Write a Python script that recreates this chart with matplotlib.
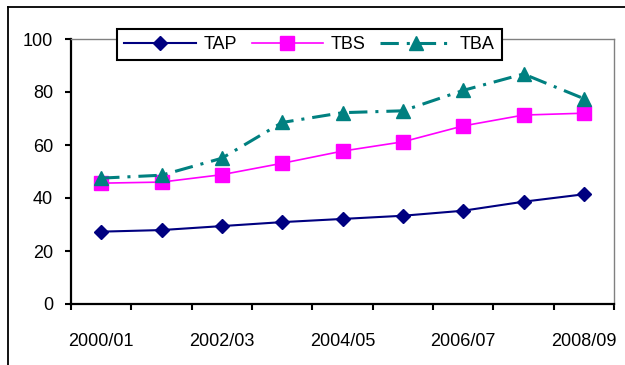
import matplotlib.pyplot as plt
from matplotlib.lines import Line2D

plt.rcParams['font.family'] = ['Liberation Sans', 'DejaVu Sans']

# Nine financial years; every other one gets a label
years = ['2000/01', '2001/02', '2002/03', '2003/04', '2004/05',
         '2005/06', '2006/07', '2007/08', '2008/09']
tap = [27.3, 27.9, 29.4, 30.9, 32.1, 33.3, 35.2, 38.6, 41.4]
tbs = [45.6, 46.0, 48.8, 53.1, 57.7, 61.2, 67.2, 71.3, 72.0]
tba = [47.5, 48.6, 55.0, 68.5, 72.2, 72.9, 80.6, 86.8, 77.5]

navy = '#000080'
magenta = '#ff00ff'
teal = '#008080'

fig = plt.figure(figsize=(6.25, 3.65), dpi=100)
ax = fig.add_axes([71/625, 1 - 304/365, 543/625, 265/365])

x = range(len(years))
ax.plot(x, tap, color=navy, lw=1.5, marker='D', ms=7, label='TAP', clip_on=False)
ax.plot(x, tbs, color=magenta, lw=1.2, marker='s', ms=10, label='TBS', clip_on=False)
ax.plot(x, tba, color=teal, lw=2.2, marker='^', ms=10,
        linestyle=(0, (6, 2.6, 1, 2.6)), label='TBA', clip_on=False)

ax.set_xlim(-0.5, len(years) - 0.5)
ax.set_ylim(0, 100)
ax.set_yticks(range(0, 101, 20))

# tick marks sit between categories, labels under every second one
ax.set_xticks([i - 0.5 for i in range(len(years) + 1)])
ax.set_xticklabels([])
ax.set_xticks(list(range(0, len(years), 2)), minor=True)
ax.set_xticklabels(years[::2], minor=True)
ax.tick_params(axis='x', which='major', length=4, width=1.5, direction='out')
ax.tick_params(axis='x', which='minor', length=0, pad=21, labelsize=13)
ax.tick_params(axis='y', length=4, width=1.5, direction='out', pad=9, labelsize=13)

for side in ('left', 'bottom'):
    ax.spines[side].set_linewidth(1.6)
    ax.spines[side].set_color('black')
for side in ('top', 'right'):
    ax.spines[side].set_linewidth(1.0)
    ax.spines[side].set_color('#808080')

leg = ax.legend(loc='upper left', bbox_to_anchor=(117/625, 1 - 29/365),
                bbox_transform=fig.transFigure, ncol=3, fontsize=13,
                frameon=True, fancybox=False, framealpha=1, edgecolor='black',
                handlelength=3.95, handletextpad=0.45, columnspacing=0.8,
                borderpad=0.4, borderaxespad=0)
leg.get_frame().set_linewidth(1.5)

# outer chart frame
fig.add_artist(Line2D([8/625, 8/625], [1 - 7/365, -0.1], color='black', lw=1.3,
                      transform=fig.transFigure))
fig.add_artist(Line2D([8/625, 1.1], [1 - 7/365, 1 - 7/365], color='black', lw=1.3,
                      transform=fig.transFigure))

fig.savefig('out.png', dpi=100)
